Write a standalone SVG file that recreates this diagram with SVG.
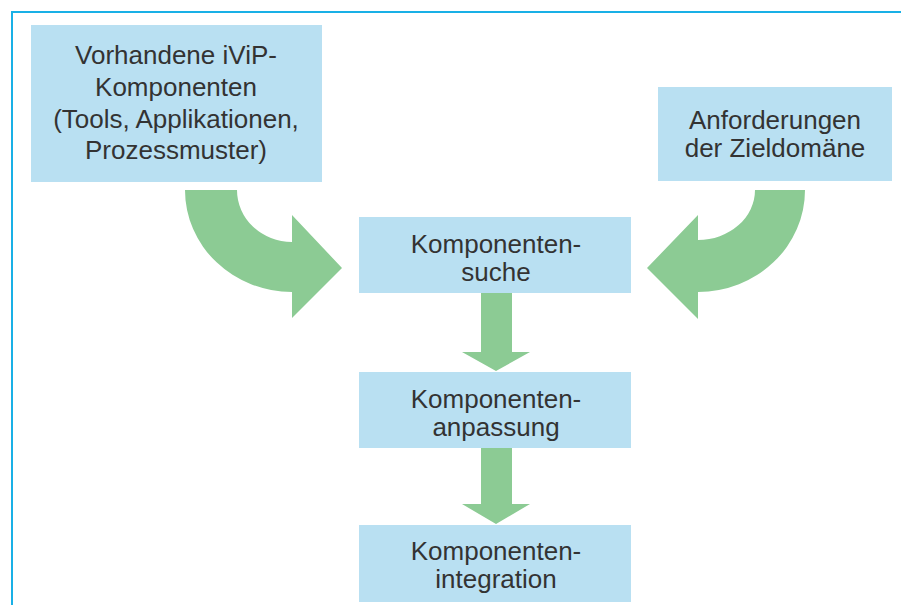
<svg xmlns="http://www.w3.org/2000/svg" width="901" height="605" viewBox="0 0 901 605">
<style>
.box{fill:#b9e0f2;}
.arr{fill:#8ccb94;}
.t{font-family:"Liberation Sans",Arial,sans-serif;font-size:26px;fill:#333;text-anchor:middle;}
</style>
<rect x="0" y="0" width="901" height="605" fill="#ffffff"/>
<path d="M12,605 L12,12 L901,12" fill="none" stroke="#19b0e6" stroke-width="2"/>
<g id="connectors">
<path class="arr" d="M185,190 A107,102 0 0 0 292,292 L292,318 L342,268 L292,215 L292,242 A55,52 0 0 1 237,190 Z"/>
<path class="arr" d="M805,190 A107,102 0 0 1 698,292 L698,319 L647,268 L698,215 L698,240 A57,50 0 0 0 755,190 Z"/>
<path class="arr" d="M481,293 L512,293 L512,352 L530,352 L496,371 L462,352 L481,352 Z"/>
<path class="arr" d="M481,448 L512,448 L512,504 L530,504 L496,524 L462,504 L481,504 Z"/>
</g>
<g id="n1">
<rect class="box" x="31" y="25" width="291" height="157"/>
<text class="t" x="176" y="64">Vorhandene iViP-</text>
<text class="t" x="176" y="96">Komponenten</text>
<text class="t" x="176" y="128">(Tools, Applikationen,</text>
<text class="t" x="176" y="159">Prozessmuster)</text>
</g>
<g id="n2">
<rect class="box" x="658" y="87" width="234" height="94"/>
<text class="t" x="775" y="129">Anforderungen</text>
<text class="t" x="775" y="157">der Zieldomäne</text>
</g>
<g id="n3">
<rect class="box" x="359" y="217" width="272" height="76"/>
<text class="t" x="496" y="253">Komponenten-</text>
<text class="t" x="496" y="281">suche</text>
</g>
<g id="n4">
<rect class="box" x="359" y="372" width="272" height="76"/>
<text class="t" x="496" y="408">Komponenten-</text>
<text class="t" x="496" y="436">anpassung</text>
</g>
<g id="n5">
<rect class="box" x="359" y="525" width="272" height="77"/>
<text class="t" x="496" y="560">Komponenten-</text>
<text class="t" x="496" y="588">integration</text>
</g>
</svg>
